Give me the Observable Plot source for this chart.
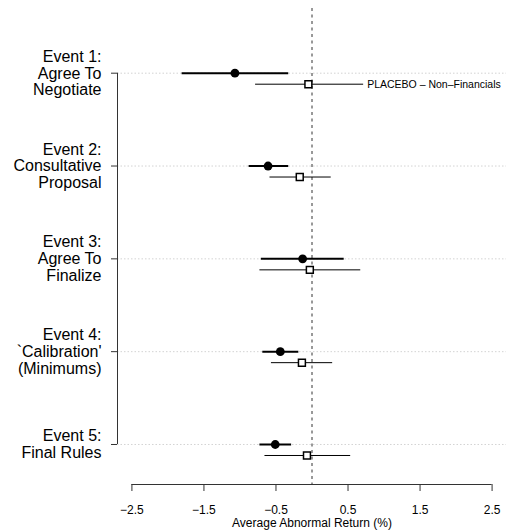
<!DOCTYPE html>
<html><head><meta charset="utf-8">
<script src="https://cdn.jsdelivr.net/npm/d3@7"></script>
<script src="https://cdn.jsdelivr.net/npm/@observablehq/plot@0.6"></script>
<style>body{margin:0;background:#fff}</style>
</head><body><div id="chart"></div>
<script>
const eventIdx = [1, 2, 3, 4, 5];
const eventLabels = [
  "Event 1:\nAgree To\nNegotiate",
  "Event 2:\nConsultative\nProposal",
  "Event 3:\nAgree To\nFinalize",
  "Event 4:\n`Calibration'\n(Minimums)",
  "Event 5:\nFinal Rules"
];
const mainEst = [-1.07, -0.61, -0.13, -0.44, -0.51];
const mainLo  = [-1.81, -0.88, -0.71, -0.69, -0.73];
const mainHi  = [-0.33, -0.33, 0.44, -0.19, -0.29];
const placeboEst = [-0.05, -0.17, -0.03, -0.14, -0.07];
const placeboLo  = [-0.79, -0.59, -0.73, -0.57, -0.66];
const placeboHi  = [0.71, 0.26, 0.67, 0.28, 0.53];
const xTicks = [-2.5, -1.5, -0.5, 0.5, 1.5, 2.5];
const placeboLabel = "PLACEBO \u2013 Non\u2013Financials";
const xLabel = "Average Abnormal Return (%)";

const rows = eventIdx.map((e, i) => ({
  e, label: eventLabels[i],
  est: mainEst[i], lo: mainLo[i], hi: mainHi[i],
  pEst: placeboEst[i], pLo: placeboLo[i], pHi: placeboHi[i]
}));

const xDomain = [-2.7, 2.7];
const yDomain = [0.303, 5.431];
const OFF = 11;

const chart = Plot.plot({
  width: 506,
  height: 531,
  marginLeft: 117,
  marginRight: 0,
  marginTop: 8,
  marginBottom: 47,
  style: {fontFamily: "'Liberation Sans', Arial, Helvetica, sans-serif", background: "#fff"},
  x: {domain: xDomain, axis: null},
  y: {domain: yDomain, reverse: true, axis: null},
  marks: [
    Plot.ruleY(rows, {y: "e", stroke: "#c8c8c8", strokeDasharray: "1.5,2", strokeWidth: 0.8}),
    Plot.ruleX([0], {stroke: "#333", strokeDasharray: "3,3.5", strokeWidth: 1}),
    // y axis line
    Plot.ruleX([xDomain[0]], {y1: d3.min(eventIdx), y2: d3.max(eventIdx), stroke: "#333"}),
    Plot.axisY(eventIdx, {tickSize: 6, tickPadding: 10, tickFormat: i => eventLabels[i - 1], fontSize: 16, lineHeight: 1.045, label: null, stroke: "#333", fill: "#000"}),
    // x axis line
    Plot.ruleY([yDomain[1]], {x1: xTicks[0], x2: xTicks[xTicks.length - 1], stroke: "#333"}),
    Plot.axisX(xTicks, {tickSize: 7, tickPadding: 14, fontSize: 12, label: null, anchor: "bottom", stroke: "#333", fill: "#000", tickFormat: d => d3.format(".1f")(d).replace("-", "\u2212")}),
    Plot.text([xLabel], {frameAnchor: "bottom", dy: 39, lineAnchor: "middle", fontSize: 12, fill: "#000"}),
    // main estimates
    Plot.link(rows, {x1: "lo", x2: "hi", y1: "e", y2: "e", stroke: "#000", strokeWidth: 2}),
    Plot.dot(rows, {x: "est", y: "e", r: 4.4, fill: "#000", stroke: "none"}),
    // placebo
    Plot.link(rows, {x1: "pLo", x2: "pHi", y1: "e", y2: "e", dy: OFF, stroke: "#000", strokeWidth: 1}),
    Plot.dot(rows, {x: "pEst", y: "e", dy: OFF, symbol: "square", r: 3.9, fill: "#fff", stroke: "#000", strokeWidth: 1.5}),
    Plot.text(rows.slice(0, 1), {x: "pHi", y: "e", dy: OFF, dx: 4, text: () => placeboLabel, textAnchor: "start", fontSize: 10.5, fill: "#000"})
  ]
});
document.getElementById("chart").appendChild(chart);
</script>
</body></html>
